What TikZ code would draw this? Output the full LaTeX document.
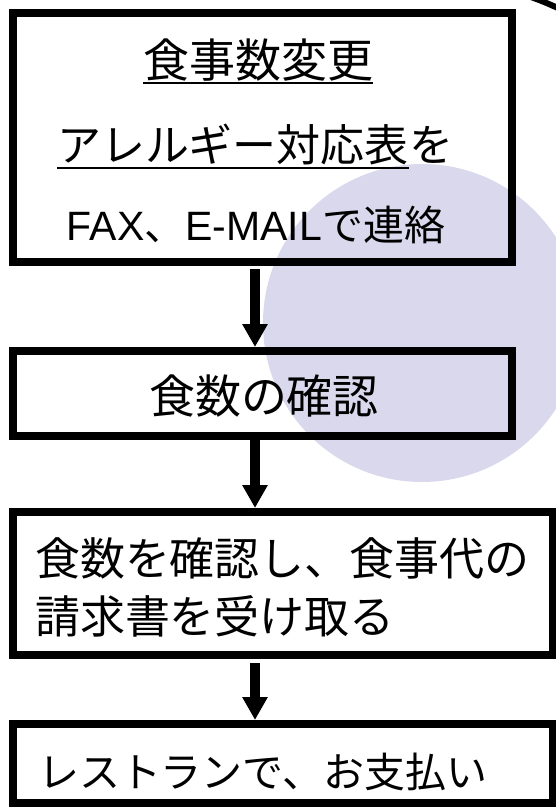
\documentclass[tikz,border=0pt]{standalone}
\usepackage{fontspec}
\newfontfamily\jp{Noto Sans CJK JP}
\newfontfamily\lat{Liberation Sans}
\usetikzlibrary{arrows.meta}
\definecolor{lav}{RGB}{218,216,236}
\begin{document}
\begin{tikzpicture}[x=1pt,y=-1pt,
  boxstyle/.style={draw=black,line width=8pt,inner sep=0pt,rectangle},
  txt/.style={inner sep=0pt,outer sep=0pt,font=\jp},
  flowarrow/.style={line width=10pt,-{Triangle[width=24pt,length=23pt]}},
  uline/.style={line width=2.5pt}]
\useasboundingbox (0,0) rectangle (555,807);
% background disc
\fill[lav] (422,323) circle[radius=159];
% fragment of a curve at the top right
\draw[line width=6pt] (531,-3) .. controls (542,1) .. (558,8);
% boxes
\node[boxstyle,minimum width=499pt,minimum height=249pt] (b1) at (262.5,137.5) {};
\node[boxstyle,minimum width=499pt,minimum height=85pt] (b2) at (262.5,393.5) {};
\node[boxstyle,minimum width=540pt,minimum height=143pt] (b3) at (283,583.5) {};
\node[boxstyle,minimum width=540pt,minimum height=79pt] (b4) at (283,763.5) {};
% texts
\node[txt,anchor=base,font=\jp\fontsize{46}{50}\selectfont] (t1) at (258,77.5) {食事数変更};
\draw[uline] ([yshift=-5.5pt]t1.base west) -- ([yshift=-5.5pt]t1.base east);
\node[txt,anchor=base west,font=\jp\fontsize{44}{50}\selectfont] (t2a) at (57,161) {アレルギー対応表};
\node[txt,anchor=base west,font=\jp\fontsize{44}{50}\selectfont] (t2b) at (t2a.base east) {を};
\draw[uline] ([yshift=-7pt]t2a.base west) -- ([yshift=-7pt]t2a.base east);
\node[txt,anchor=base,font=\jp\fontsize{41}{50}\selectfont] (t3) at (256,240) {{\lat FAX}、{\lat E-MAIL}で連絡};
\node[txt,anchor=base,font=\jp\fontsize{46}{50}\selectfont] (t4) at (264,413) {食数の確認};
\node[txt,anchor=base west,font=\jp\fontsize{45}{50}\selectfont] (t5) at (35,575) {食数を確認し、食事代の};
\node[txt,anchor=base west,font=\jp\fontsize{45}{50}\selectfont] (t6) at (35,633) {請求書を受け取る};
\node[txt,anchor=base west,font=\jp\fontsize{41}{50}\selectfont] (t7) at (38,787) {レストランで、お支払い};
% arrows
\coordinate (ax) at (255,0);
\draw[flowarrow,shorten <=3pt] (b1.south -| ax) -- (b2.north -| ax);
\draw[flowarrow] (b2.south -| ax) -- (b3.north -| ax);
\draw[flowarrow,shorten <=4pt] (b3.south -| ax) -- (b4.north -| ax);
\end{tikzpicture}
\end{document}
